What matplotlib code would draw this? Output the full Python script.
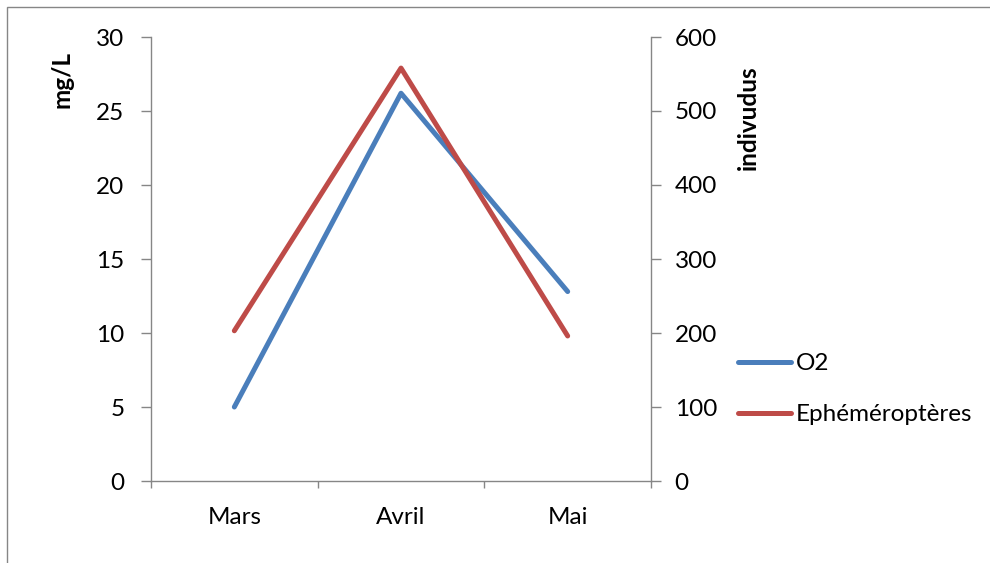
import matplotlib
matplotlib.use("Agg")
import matplotlib.pyplot as plt
from matplotlib.patches import Rectangle

categories = ["Mars", "Avril", "Mai"]
o2_values = [5.0, 26.2, 12.8]
ephem_values = [203, 558, 196]
left_ticks = [0, 5, 10, 15, 20, 25, 30]
right_ticks = [0, 100, 200, 300, 400, 500, 600]

plt.rcParams['font.family'] = ['Lato', 'DejaVu Sans']

W, H = 990, 563
FS = 17.5
fig = plt.figure(figsize=(9.9, 5.63), dpi=100)
ax = fig.add_axes([151 / W, 1 - 481 / H, 500 / W, 444 / H])
ax2 = ax.twinx()

blue = "#4A7EBB"
red = "#BE4B48"
gray = "#868686"

x = list(range(len(categories)))
l1, = ax.plot(x, o2_values, color=blue, lw=3.6, solid_capstyle="round", label="O2", zorder=3)
l2, = ax2.plot(x, ephem_values, color=red, lw=3.6, solid_capstyle="round", label="Ephéméroptères", zorder=3)

ax.set_xlim(-0.5, 2.5)
ax.set_ylim(0, 30)
ax2.set_ylim(0, 600)
ax.set_yticks(left_ticks)
ax2.set_yticks(right_ticks)

ax.set_xticks([-0.5, 0.5, 1.5, 2.5])
ax.set_xticklabels([])
ax.set_xticks(x, minor=True)
ax.set_xticklabels(categories, minor=True)
ax.tick_params(axis="x", which="major", direction="out", length=5, color=gray, width=1)
ax.tick_params(axis="x", which="minor", length=0, pad=19, labelsize=FS)
ax.tick_params(axis="y", direction="out", length=7, color=gray, width=1, pad=12, labelsize=FS)
ax2.tick_params(axis="y", direction="out", length=7, color=gray, width=1, pad=10, labelsize=FS)

for a in (ax, ax2):
    a.spines["top"].set_visible(False)
    for s in a.spines.values():
        s.set_color(gray)
        s.set_linewidth(1)
ax.spines["right"].set_visible(False)
ax2.spines["left"].set_visible(False)
ax2.spines["bottom"].set_visible(False)

fig.text(62 / W, 1 - 80 / H, "mg/L", rotation=90, ha="center", va="center",
         fontsize=FS, fontweight="bold")
fig.text(748 / W, 1 - 118 / H, "indivudus", rotation=90, ha="center", va="center",
         fontsize=FS, fontweight="bold")

fig.legend(handles=[l1, l2], loc="upper left", bbox_to_anchor=(738 / W, 1 - 353 / H),
           frameon=False, fontsize=FS, handlelength=2.2, handletextpad=0.17,
           labelspacing=1.25, borderaxespad=0, borderpad=0)

fig.patches.append(Rectangle((7 / W, -0.1), 1.2, 1 - 7 / H + 0.1, transform=fig.transFigure,
                             fill=False, edgecolor=gray, lw=1))

fig.savefig("out.png", dpi=100)
